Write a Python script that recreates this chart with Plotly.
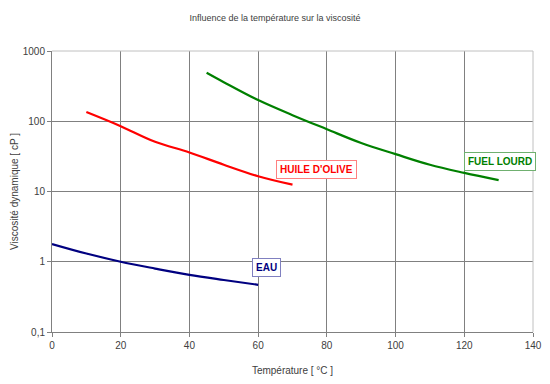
import plotly.graph_objects as go

# Data
eau_t = [0, 10, 20, 30, 40, 50, 60]
eau_v = [1.79, 1.31, 1.0, 0.80, 0.65, 0.55, 0.47]

huile_t = [10, 20, 30, 40, 50, 60, 70]
huile_v = [135, 85, 51, 36, 24, 16.5, 12.5]

fuel_t = [45, 50, 60, 70, 80, 90, 100, 110, 120, 130]
fuel_v = [490, 360, 200, 122, 77, 49, 34, 24, 18.4, 14.5]

x_ticks = [0, 20, 40, 60, 80, 100, 120, 140]
y_ticks = [0.1, 1, 10, 100, 1000]
y_tick_labels = ["0,1", "1", "10", "100", "1000"]

fig = go.Figure()
fig.add_trace(go.Scatter(x=eau_t, y=eau_v, mode="lines", line=dict(color="#000080", width=2.2, shape="spline"), showlegend=False))
fig.add_trace(go.Scatter(x=huile_t, y=huile_v, mode="lines", line=dict(color="#FF0000", width=2.2, shape="spline"), showlegend=False))
fig.add_trace(go.Scatter(x=fuel_t, y=fuel_v, mode="lines", line=dict(color="#008000", width=2.2, shape="spline"), showlegend=False))

font_family = "Liberation Sans, Arial, sans-serif"

def label(text, x, y, color, border):
    fig.add_annotation(x=x, y=y, xref="x", yref="y", text="<b>" + text + "</b>", showarrow=False,
                       font=dict(family=font_family, size=10, color=color),
                       bgcolor="white", bordercolor=border, borderwidth=1, borderpad=3)

label("HUILE D'OLIVE", 77.0, 1.31, "#FF0000", "#FF8080")
label("FUEL LOURD", 130.5, 1.43, "#008000", "#70B070")
label("EAU", 62.5, -0.077, "#000080", "#8080C0")

fig.update_layout(
    width=550, height=384,
    margin=dict(l=52, r=17, t=51, b=52),
    paper_bgcolor="white", plot_bgcolor="white",
    title=dict(text="Influence de la température sur la viscosité", x=0.5, xanchor="center", y=0.953, yanchor="middle",
               font=dict(family=font_family, size=9, color="#404040")),
    font=dict(family=font_family, size=10, color="#404040"),
    xaxis=dict(range=[0, 140], tickvals=x_ticks, showgrid=True, gridcolor="#808080", gridwidth=1, automargin=False,
               showline=True, linecolor="#808080", linewidth=1, ticks="outside", ticklen=4, tickcolor="#808080",
               zeroline=False, tickfont=dict(size=10, color="#404040"),
               title=dict(text="Température [ °C ]", font=dict(size=10, color="#404040"), standoff=16)),
    yaxis=dict(type="log", range=[-1, 3], tickvals=y_ticks, ticktext=y_tick_labels, showgrid=True, gridcolor="#808080",
               gridwidth=1, showline=True, linecolor="#808080", linewidth=1, ticks="outside", ticklen=4, automargin=False,
               tickcolor="#808080", zeroline=False, tickfont=dict(size=10, color="#404040"),
               title=dict(text="Viscosité dynamique [ cP ]", font=dict(size=10, color="#404040"), standoff=2)),
    shapes=[
        dict(type="line", xref="paper", yref="paper", x0=0, x1=1, y0=1, y1=1, line=dict(color="#C0C0C0", width=1)),
        dict(type="line", xref="paper", yref="paper", x0=1, x1=1, y0=0, y1=1, line=dict(color="#C0C0C0", width=1)),
    ],
)

fig.write_html("out.html")
